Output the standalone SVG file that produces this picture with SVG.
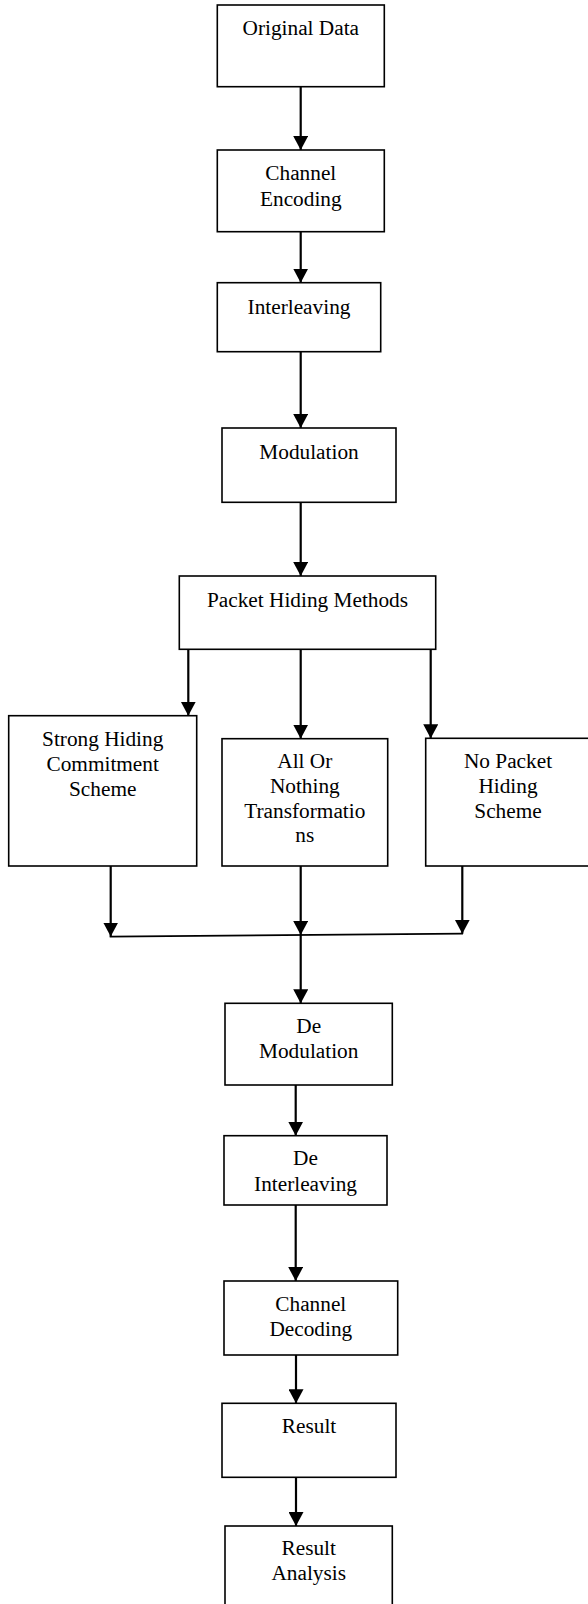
<svg xmlns="http://www.w3.org/2000/svg" width="588" height="1604" viewBox="0 0 588 1604">
<style>
  .box { fill: #ffffff; stroke: #000000; stroke-width: 1.6; }
  .lbl { font-family: "Liberation Serif", "Times New Roman", serif; font-size: 21.3px; fill: #000000; text-anchor: middle; }
  .con { fill: none; stroke: #000000; stroke-width: 2.2; }
  .join { fill: none; stroke: #000000; stroke-width: 1.8; }
</style>
<defs>
  <marker id="ah" markerUnits="userSpaceOnUse" markerWidth="14" markerHeight="15" viewBox="0 0 14 15" refX="14" refY="7.5" orient="auto">
    <path d="M0,0 L14,7.5 L0,15 Z" fill="#000000"/>
  </marker>
</defs>
<rect width="588" height="1604" fill="#ffffff"/>

<g id="connectors">
  <line class="con" x1="300.7" y1="86.7" x2="300.7" y2="150" marker-end="url(#ah)"/>
  <line class="con" x1="300.7" y1="231.7" x2="300.7" y2="282.7" marker-end="url(#ah)"/>
  <line class="con" x1="300.7" y1="351.7" x2="300.7" y2="428" marker-end="url(#ah)"/>
  <line class="con" x1="300.7" y1="502.3" x2="300.7" y2="576" marker-end="url(#ah)"/>
  <line class="con" x1="188.3" y1="649.3" x2="188.3" y2="715.7" marker-end="url(#ah)"/>
  <line class="con" x1="300.7" y1="649.3" x2="300.7" y2="738.7" marker-end="url(#ah)"/>
  <line class="con" x1="430.7" y1="649.3" x2="430.7" y2="738.3" marker-end="url(#ah)"/>
  <line class="con" x1="110.7" y1="866" x2="110.7" y2="936.5" marker-end="url(#ah)"/>
  <line class="con" x1="300.7" y1="866" x2="300.7" y2="935" marker-end="url(#ah)"/>
  <line class="con" x1="462.3" y1="866" x2="462.3" y2="933.7" marker-end="url(#ah)"/>
  <line class="join" x1="109.7" y1="936.7" x2="463" y2="933.7"/>
  <line class="con" x1="300.7" y1="935" x2="300.7" y2="1003.3" marker-end="url(#ah)"/>
  <line class="con" x1="295.7" y1="1085" x2="295.7" y2="1135.7" marker-end="url(#ah)"/>
  <line class="con" x1="295.7" y1="1205" x2="295.7" y2="1281" marker-end="url(#ah)"/>
  <line class="con" x1="296" y1="1355" x2="296" y2="1403.3" marker-end="url(#ah)"/>
  <line class="con" x1="296" y1="1477.3" x2="296" y2="1526" marker-end="url(#ah)"/>
</g>

<g id="original-data">
  <rect class="box" x="217.3" y="5" width="167" height="81.7"/>
  <text class="lbl" x="300.8" y="35">Original Data</text>
</g>
<g id="channel-encoding">
  <rect class="box" x="217.3" y="150" width="167" height="81.7"/>
  <text class="lbl" x="300.8" y="180">Channel</text>
  <text class="lbl" x="300.8" y="206">Encoding</text>
</g>
<g id="interleaving">
  <rect class="box" x="217.3" y="282.7" width="163.4" height="69"/>
  <text class="lbl" x="299" y="314">Interleaving</text>
</g>
<g id="modulation">
  <rect class="box" x="222" y="428" width="174" height="74.3"/>
  <text class="lbl" x="309" y="458.7">Modulation</text>
</g>
<g id="packet-hiding-methods">
  <rect class="box" x="179.3" y="576" width="256.4" height="73.3"/>
  <text class="lbl" x="307.5" y="607.3">Packet Hiding Methods</text>
</g>
<g id="strong-hiding">
  <rect class="box" x="8.7" y="715.7" width="188" height="150.3"/>
  <text class="lbl" x="102.7" y="746">Strong Hiding</text>
  <text class="lbl" x="102.7" y="770.7">Commitment</text>
  <text class="lbl" x="102.7" y="795.7">Scheme</text>
</g>
<g id="all-or-nothing">
  <rect class="box" x="222" y="738.7" width="165.7" height="127.3"/>
  <text class="lbl" x="304.8" y="768.3">All Or</text>
  <text class="lbl" x="304.8" y="793.3">Nothing</text>
  <text class="lbl" x="304.8" y="817.7">Transformatio</text>
  <text class="lbl" x="304.8" y="842.3">ns</text>
</g>
<g id="no-packet-hiding">
  <rect class="box" x="425.7" y="738.3" width="170" height="127.7"/>
  <text class="lbl" x="508" y="768.3">No Packet</text>
  <text class="lbl" x="508" y="793.3">Hiding</text>
  <text class="lbl" x="508" y="817.7">Scheme</text>
</g>
<g id="de-modulation">
  <rect class="box" x="225" y="1003.3" width="167.3" height="81.7"/>
  <text class="lbl" x="308.7" y="1033.3">De</text>
  <text class="lbl" x="308.7" y="1058.3">Modulation</text>
</g>
<g id="de-interleaving">
  <rect class="box" x="224" y="1135.7" width="163" height="69.3"/>
  <text class="lbl" x="305.5" y="1165">De</text>
  <text class="lbl" x="305.5" y="1190.7">Interleaving</text>
</g>
<g id="channel-decoding">
  <rect class="box" x="224" y="1281" width="173.7" height="74"/>
  <text class="lbl" x="310.8" y="1310.7">Channel</text>
  <text class="lbl" x="310.8" y="1336">Decoding</text>
</g>
<g id="result">
  <rect class="box" x="222" y="1403.3" width="174" height="74"/>
  <text class="lbl" x="309" y="1433.3">Result</text>
</g>
<g id="result-analysis">
  <rect class="box" x="225" y="1526" width="167.3" height="90"/>
  <text class="lbl" x="308.7" y="1555">Result</text>
  <text class="lbl" x="308.7" y="1580">Analysis</text>
</g>
</svg>
